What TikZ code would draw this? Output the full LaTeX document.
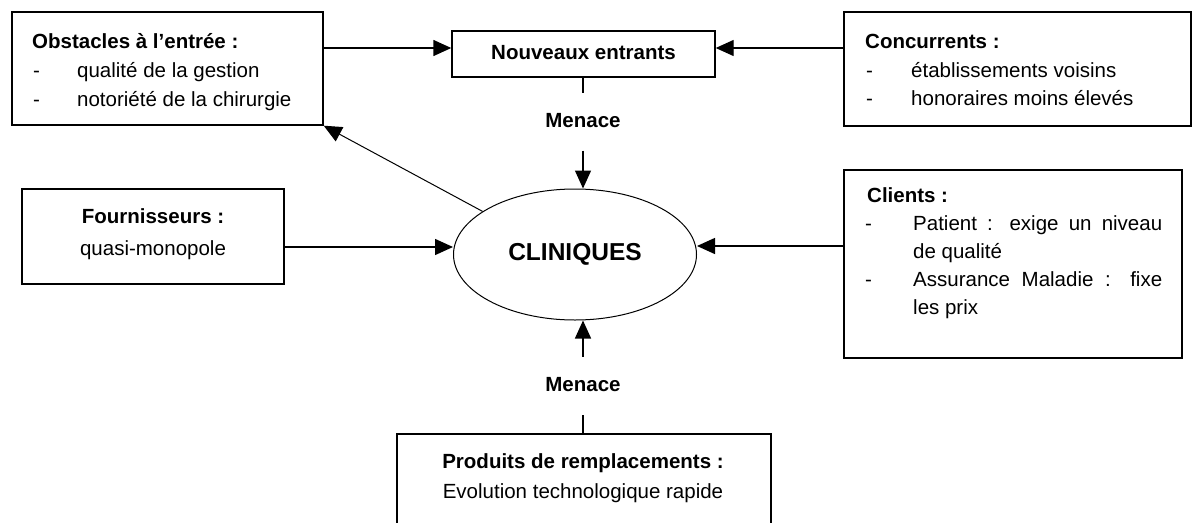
\documentclass[tikz,border=0pt]{standalone}
\usepackage{fontspec}
\setmainfont{Liberation Sans}
\usetikzlibrary{arrows.meta,shapes.geometric,calc}
\begin{document}
\begin{tikzpicture}[x=1pt,y=-1pt,
  box/.style={draw,line width=1.4pt,rectangle,inner sep=0pt},
  txt/.style={inner sep=0pt,text height=15pt,text depth=4pt,font=\fontsize{20.5}{29}\selectfont},
  btxt/.style={txt,font=\fontsize{20.5}{29}\selectfont\bfseries},
  lnk/.style={line width=1.4pt},
  arr/.style={lnk,-{Triangle[length=18pt,width=16pt]}}]
\useasboundingbox[fill=white] (0,0) rectangle (1193,522);
% boxes
\node[box,minimum width=311pt,minimum height=113pt] (obs) at (167.5,68.5) {};
\node[box,minimum width=263pt,minimum height=46pt,btxt] (ne) at (583.5,54) {Nouveaux entrants};
\node[box,minimum width=347pt,minimum height=114pt] (con) at (1017.5,69) {};
\node[box,minimum width=262pt,minimum height=95pt] (fou) at (153,236.5) {};
\node[box,minimum width=338pt,minimum height=188pt] (cli) at (1013,264) {};
\node[box,minimum width=374pt,minimum height=111pt] (pro) at (584,489.5) {};
\node[draw,ellipse,line width=1pt,minimum width=243pt,minimum height=131pt,inner sep=0pt,
      font=\fontsize{24.5}{29}\selectfont\bfseries] (cl) at (575,254.5) {CLINIQUES};
% texts: obstacles
\node[btxt,anchor=west] (o1) at (32,43) {Obstacles à l’entrée :};
\node[txt,anchor=west] (o2d) at (33,72) {-};
\node[txt,anchor=west] (o2) at (77,72) {qualité de la gestion};
\node[txt,anchor=west] (o3d) at (33,101) {-};
\node[txt,anchor=west] (o3) at (77,101) {notoriété de la chirurgie};
% concurrents
\node[btxt,anchor=west] (c1) at (865,43) {Concurrents :};
\node[txt,anchor=west] (c2d) at (866,72) {-};
\node[txt,anchor=west] (c2) at (911,72) {établissements voisins};
\node[txt,anchor=west] (c3d) at (866,100) {-};
\node[txt,anchor=west] (c3) at (911,100) {honoraires moins élevés};
% fournisseurs
\node[btxt] (f1) at (153,218) {Fournisseurs :};
\node[txt] (f2) at (153,250) {quasi-monopole};
% clients
\node[btxt,anchor=west] (k1) at (867,197) {Clients :};
\node[txt,anchor=west] (k2d) at (865,225) {-};
\node[txt,anchor=west] (k2) at (913,225) {\makebox[249pt][s]{Patient : exige un niveau}};
\node[txt,anchor=west] (k3) at (913,253) {de qualité};
\node[txt,anchor=west] (k4d) at (865,281) {-};
\node[txt,anchor=west] (k4) at (913,281) {\makebox[249pt][s]{Assurance Maladie : fixe}};
\node[txt,anchor=west] (k5) at (913,309) {les prix};
% produits
\node[btxt] (p1) at (583,463) {Produits de remplacements :};
\node[txt] (p2) at (583,493) {Evolution technologique rapide};
% menace labels
\node[btxt,minimum height=57pt] (m1) at (583,122) {Menace};
\node[btxt,minimum height=58pt] (m2) at (583,386) {Menace};
% helper coordinates
\coordinate (ytop) at (0,48);
\coordinate (yfou) at (0,247);
\coordinate (ycli) at (0,246);
% connectors
\draw[arr] (obs.east |- ytop) -- (ne.west |- ytop);
\draw[arr] (con.west |- ytop) -- (ne.east |- ytop);
\draw[lnk] (ne.south -| m1) -- (m1.north);
\draw[arr] (m1.south) -- (cl.north -| m1);
\draw[lnk] (pro.north -| m2) -- (m2.south);
\draw[arr] (m2.north) -- (cl.south -| m2);
\draw[arr] (fou.east |- yfou) -- (cl.west |- yfou);
\draw[arr] (cli.west |- ycli) -- (cl.east |- ycli);
\draw[arr,line width=1pt] (cl.155) -- (obs.south east);
\end{tikzpicture}
\end{document}
